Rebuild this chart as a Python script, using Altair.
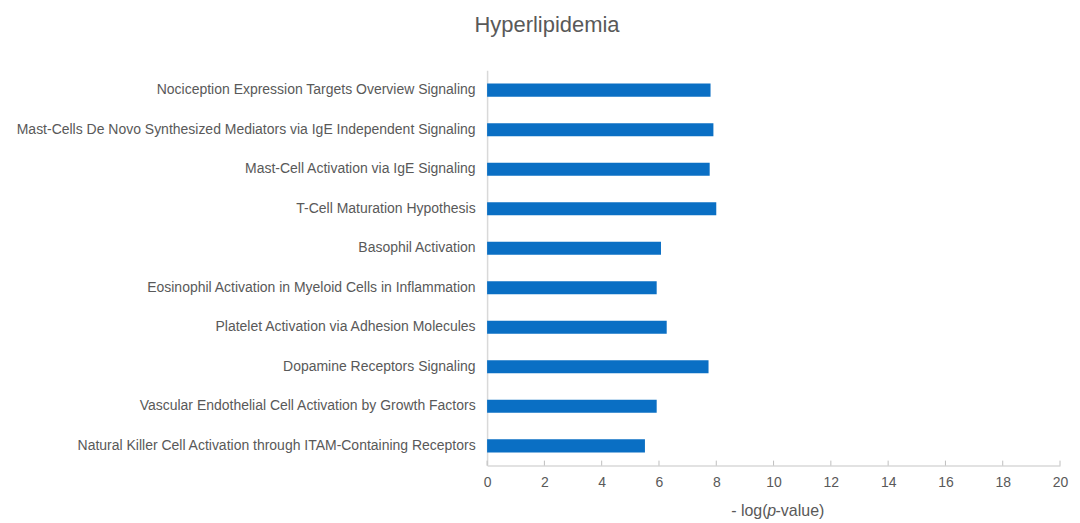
import altair as alt
import pandas as pd

categories = [
    "Nociception Expression Targets Overview Signaling",
    "Mast-Cells De Novo Synthesized Mediators via IgE Independent Signaling",
    "Mast-Cell Activation via IgE Signaling",
    "T-Cell Maturation Hypothesis",
    "Basophil Activation",
    "Eosinophil Activation in Myeloid Cells in Inflammation",
    "Platelet Activation via Adhesion Molecules",
    "Dopamine Receptors Signaling",
    "Vascular Endothelial Cell Activation by Growth Factors",
    "Natural Killer Cell Activation through ITAM-Containing Receptors",
]
values = [7.80, 7.90, 7.77, 8.00, 6.07, 5.92, 6.27, 7.73, 5.92, 5.51]
tick_values = [0, 2, 4, 6, 8, 10, 12, 14, 16, 18, 20]

FONT = "Liberation Sans"
GREY = "#595959"
LINE = "#D9D9D9"
W, H = 574, 396

df = pd.DataFrame({"pathway": categories, "value": values})
ticks = pd.DataFrame({"t": tick_values})

xscale = alt.Scale(domain=[0, 20], nice=False, zero=True)

bars = alt.Chart(df).mark_bar(color="#0A6FC4").encode(
    x=alt.X("value:Q", scale=xscale,
            axis=alt.Axis(values=tick_values, title=None, grid=False,
                          domainColor=LINE, domainWidth=1.5, ticks=False,
                          labelPadding=10, labelFontSize=14, labelColor=GREY,
                          labelFont=FONT, labelFlush=False, labelOverlap=False)),
    y=alt.Y("pathway:N", sort=categories, title=None,
            scale=alt.Scale(paddingInner=0.67, paddingOuter=0.335),
            axis=alt.Axis(ticks=False, domainColor=LINE, domainWidth=1.5,
                          labelPadding=12, labelFontSize=14, labelColor=GREY,
                          labelFont=FONT, labelLimit=600)),
)

tick_rules = alt.Chart(ticks).mark_rule(color="#BFBFBF", strokeWidth=1).encode(
    x=alt.X("t:Q", scale=xscale),
    y=alt.value(H - 5),
    y2=alt.value(H),
)

title_df1 = pd.DataFrame({"s": ["- log("]})
title_df2 = pd.DataFrame({"s": ["p"]})
title_df3 = pd.DataFrame({"s": ["-value)"]})
PX, PY = 285, 441
t1 = alt.Chart(title_df1).mark_text(align="right", baseline="middle", fontSize=16,
                                    font=FONT, color=GREY).encode(
    x=alt.value(PX - 4), y=alt.value(PY), text="s:N")
t2 = alt.Chart(title_df2).mark_text(align="center", baseline="middle", fontSize=16,
                                    font=FONT, color=GREY, fontStyle="italic").encode(
    x=alt.value(PX), y=alt.value(PY), text="s:N")
t3 = alt.Chart(title_df3).mark_text(align="left", baseline="middle", fontSize=16,
                                    font=FONT, color=GREY).encode(
    x=alt.value(PX + 4), y=alt.value(PY), text="s:N")

chart = alt.layer(bars, tick_rules, t1, t2, t3).properties(
    width=W, height=H,
    background="white",
    title=alt.TitleParams("Hyperlipidemia", fontSize=22, color=GREY, font=FONT,
                          fontWeight="normal", anchor="middle", dx=-227,
                          baseline="top", offset=33),
    autosize=alt.AutoSizeParams(type="none"),
    padding={"left": 480, "top": 62, "right": 12, "bottom": 57},
).configure_view(stroke=None, strokeWidth=0)

chart.save("out.html", embed_options={"renderer": "svg", "actions": False})
